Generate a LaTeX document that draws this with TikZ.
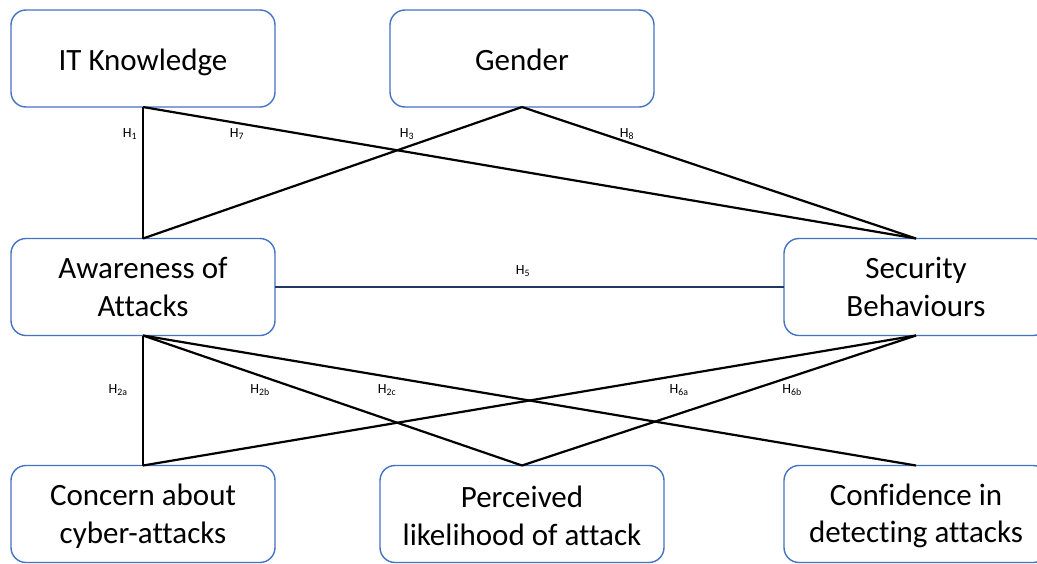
\documentclass[tikz,border=0pt]{standalone}
\usepackage{fontspec}
\setmainfont{Carlito}[Ligatures=NoCommon]
\definecolor{boxblue}{HTML}{4472C4}
\definecolor{navy}{HTML}{1F3864}
\begin{document}
\begin{tikzpicture}[x=1pt,y=-1pt,
  box/.style={draw=boxblue, line width=1.4pt, rounded corners=15pt, fill=white,
    minimum width=264pt, minimum height=97pt, inner sep=0pt, outer sep=0pt},
  txt/.style={align=center, inner sep=0pt, font=\fontsize{31}{37.5}\selectfont},
  link/.style={line width=2.2pt, black},
  hlab/.style={font=\fontsize{14}{16}\selectfont, inner sep=0pt}]
\useasboundingbox (0,0) rectangle (1037,563);
\clip (0,0) rectangle (1037,563);
\fill[white] (0,0) rectangle (1037,563);
\node[box] (it) at (143,58.5) {};
\node[box] (gen) at (522,58.5) {};
\node[box] (aw) at (143,287) {};
\node[box] (sec) at (916,287) {};
\node[box] (con) at (143,514) {};
\node[box, minimum width=284pt] (per) at (522,514) {};
\node[box] (conf) at (916,514) {};
\node[txt] (itT) at ([yshift=-3.5pt]it.center) {IT Knowledge};
\node[txt] (genT) at ([yshift=-1.5pt]gen.center) {Gender};
\node[txt] (awT) at (aw.center) {Awareness of\\Attacks};
\node[txt] (secT) at (sec.center) {Security\\Behaviours};
\node[txt] (conT) at ([yshift=-2pt]con.center) {Concern about\\cyber-attacks};
\node[txt] (perT) at ([yshift=-2pt]per.center) {Perceived\\likelihood of attack};
\node[txt] (confT) at ([yshift=-2pt]conf.center) {Confidence in\\detecting attacks};
\draw[link] (it.south) -- (aw.north);
\draw[link] (it.south) -- (sec.north);
\draw[link] (gen.south) -- (aw.north);
\draw[link] (gen.south) -- (sec.north);
\draw[line width=2.2pt, navy] (aw.east) -- (sec.west);
\draw[link] (aw.south) -- (con.north);
\draw[link] (aw.south) -- (per.north);
\draw[link] (aw.south) -- (conf.north);
\draw[link] (sec.south) -- (con.north);
\draw[link] (sec.south) -- (per.north);
\node[hlab] (h1) at (130,134) {H\textsubscript{1}};
\node[hlab] (h7) at (237,134) {H\textsubscript{7}};
\node[hlab] (h3) at (407,134) {H\textsubscript{3}};
\node[hlab] (h8) at (627,134) {H\textsubscript{8}};
\node[hlab] (h5) at (523,271) {H\textsubscript{5}};
\node[hlab] (h2a) at (118,390) {H\textsubscript{2a}};
\node[hlab] (h2b) at (260,390) {H\textsubscript{2b}};
\node[hlab] (h2c) at (387,390) {H\textsubscript{2c}};
\node[hlab] (h6a) at (679,390) {H\textsubscript{6a}};
\node[hlab] (h6b) at (792,390) {H\textsubscript{6b}};
\end{tikzpicture}
\end{document}
